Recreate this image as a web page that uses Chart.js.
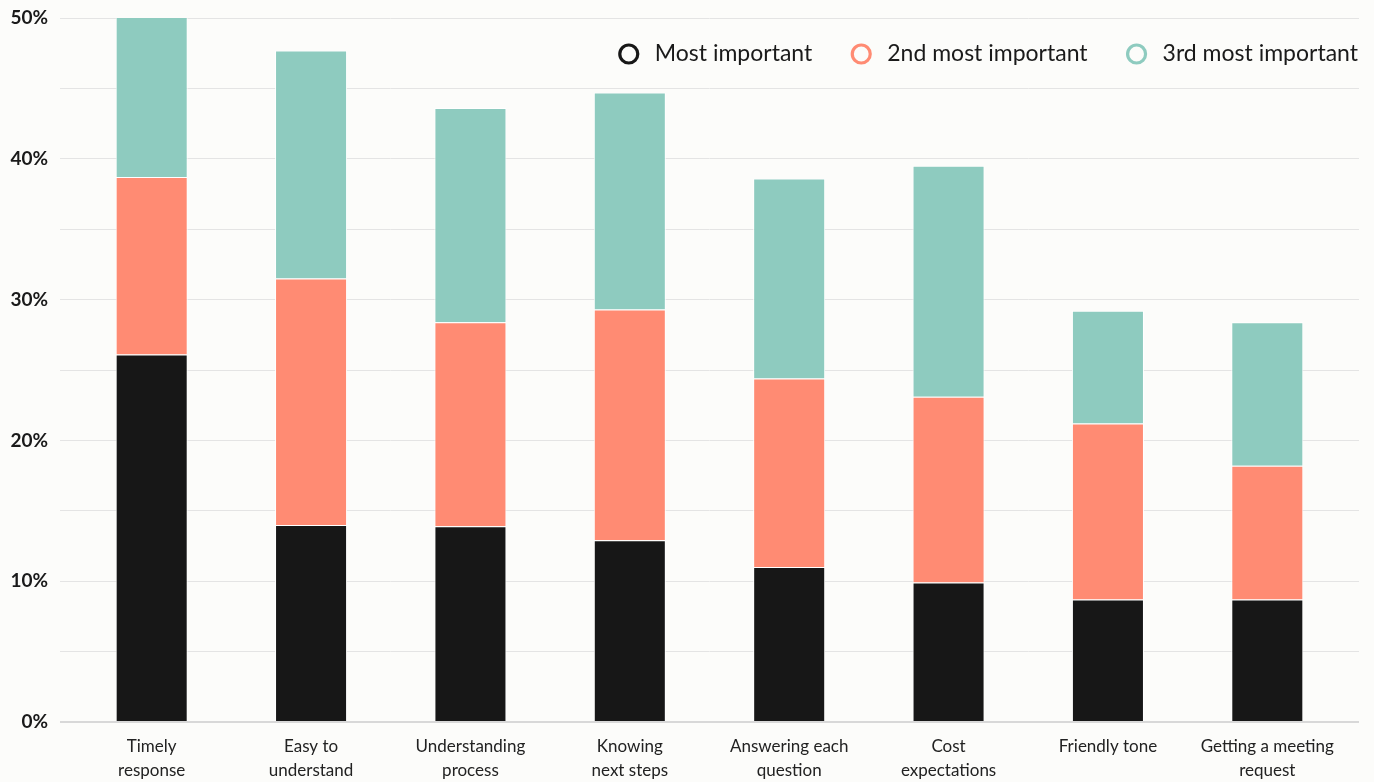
<!DOCTYPE html>
<html>
<head>
<meta charset="utf-8">
<script src="https://cdn.jsdelivr.net/npm/chart.js@4.4.0/dist/chart.umd.min.js"></script>
<style>
  html, body { margin: 0; padding: 0; background: #fcfcfa; }
  #wrap { width: 1374px; height: 782px; position: relative; }
</style>
</head>
<body>
<div id="wrap"><canvas id="c"></canvas></div>
<script>
const categories = [
  ['Timely', 'response'],
  ['Easy to', 'understand'],
  ['Understanding', 'process'],
  ['Knowing', 'next steps'],
  ['Answering each', 'question'],
  ['Cost', 'expectations'],
  'Friendly tone',
  ['Getting a meeting', 'request']
];
const seriesNames = ['Most important', '2nd most important', '3rd most important'];
const mostImportant = [26.1, 14.0, 13.9, 12.9, 11.0, 9.9, 8.7, 8.7];
const secondMost    = [12.6, 17.5, 14.5, 16.4, 13.4, 13.2, 12.5, 9.5];
const thirdMost     = [11.4, 16.2, 15.2, 15.4, 14.2, 16.4, 8.0, 10.2];
const colors = ['#171717', '#ff8b73', '#8ecbbf'];
const yMax = 50, yStep = 5, yLabelStep = 10;

const FONT = 'Lato, "Open Sans", sans-serif';
const BG = '#fcfcfa';

const mk = (i, data) => ({
  label: seriesNames[i],
  data: data,
  backgroundColor: colors[i],
  borderColor: 'rgba(255,255,255,0.95)',
  borderWidth: 1,
  barPercentage: 0.452,
  categoryPercentage: 1.0
});

// Legend drawn at the top-right, over the plot area
const topLegend = {
  id: 'topLegend',
  afterDraw(chart) {
    const ctx = chart.ctx;
    const area = chart.chartArea;
    ctx.save();
    ctx.font = '23px ' + FONT;
    ctx.textBaseline = 'middle';
    ctx.textAlign = 'left';
    const cy = 54;
    let xRight = area.right + 11;
    const items = chart.data.datasets.map((ds, i) => ({ text: ds.label, color: colors[i] }));
    for (let i = items.length - 1; i >= 0; i--) {
      const w = ctx.measureText(items[i].text).width;
      const tx = xRight - w;
      const cx = tx - 26;
      ctx.fillStyle = '#1a1a1a';
      ctx.fillText(items[i].text, tx, cy);
      ctx.beginPath();
      ctx.arc(cx, cy, 9, 0, Math.PI * 2);
      ctx.fillStyle = BG;
      ctx.fill();
      ctx.lineWidth = 3.2;
      ctx.strokeStyle = items[i].color;
      ctx.stroke();
      xRight = cx - 12 - 37;
    }
    ctx.restore();
  }
};

new Chart(document.getElementById('c'), {
  type: 'bar',
  data: {
    labels: categories,
    datasets: [mk(0, mostImportant), mk(1, secondMost), mk(2, thirdMost)]
  },
  plugins: [topLegend],
  options: {
    responsive: true,
    maintainAspectRatio: false,
    animation: false,
    layout: { padding: { left: 0, right: 15, top: 18, bottom: 0 } },
    plugins: {
      tooltip: { enabled: false },
      legend: { display: false }
    },
    scales: {
      x: {
        stacked: true,
        grid: { display: false, drawTicks: false },
        border: { display: false },
        ticks: {
          color: '#222',
          padding: 12,
          maxRotation: 0,
          autoSkip: false,
          font: { family: FONT, size: 17, lineHeight: 1.42 }
        },
        afterFit: (s) => { s.height = 60; s.paddingLeft = 0; s.paddingRight = 0; }
      },
      y: {
        stacked: true,
        min: 0,
        max: yMax,
        border: { display: false },
        grid: {
          color: (ctx) => ctx.tick && ctx.tick.value === 0 ? '#d8d8d8' : '#e4e4e4',
          lineWidth: (ctx) => ctx.tick && ctx.tick.value === 0 ? 2 : 1,
          drawTicks: true,
          tickLength: 12
        },
        ticks: {
          stepSize: yStep,
          padding: 12,
          color: '#1a1a1a',
          font: { family: FONT, size: 19, weight: 'bold' },
          callback: (v) => (v % yLabelStep === 0 ? v + '%' : '')
        },
        afterFit: (s) => { s.width = 72; s.paddingTop = 0; s.paddingBottom = 0; }
      },
      y2: {
        position: 'right',
        min: 0,
        max: yMax,
        border: { display: false },
        grid: {
          drawOnChartArea: false,
          drawTicks: true,
          tickLength: 12,
          color: (ctx) => ctx.tick && ctx.tick.value === 0 ? '#d8d8d8' : '#e4e4e4',
          lineWidth: (ctx) => ctx.tick && ctx.tick.value === 0 ? 2 : 1
        },
        ticks: { stepSize: yStep, display: false },
        afterFit: (s) => { s.width = 12; s.paddingTop = 0; s.paddingBottom = 0; }
      }
    }
  }
});
</script>
</body>
</html>
